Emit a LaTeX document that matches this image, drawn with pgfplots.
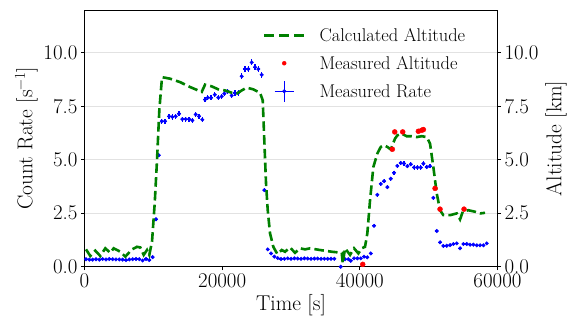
\documentclass[border=0pt]{standalone}
\usepackage{fontspec}
\usepackage{pgfplots}
\pgfplotsset{compat=1.18}
\usepackage{pgfplotstable}
\definecolor{mplgreen}{HTML}{008000}
\definecolor{gridgray}{HTML}{E2E2E2}
\definecolor{txt}{HTML}{000000}

\pgfplotstableread{
x y ex ey
218 0.35 242 0.027
702 0.33 242 0.026
1186 0.33 242 0.026
1670 0.35 242 0.027
2154 0.33 242 0.026
2638 0.36 242 0.027
3122 0.34 242 0.027
3606 0.36 242 0.027
4090 0.35 242 0.027
4574 0.34 242 0.027
5058 0.34 242 0.027
5542 0.33 242 0.026
6026 0.31 242 0.025
6510 0.34 242 0.027
6994 0.35 242 0.027
7478 0.36 242 0.027
7962 0.35 242 0.027
8446 0.29 242 0.025
8930 0.36 242 0.027
9414 0.31 242 0.025
9898 0.45 242 0.031
10390 2.22 242 0.068
10780 5.21 242 0.104
11217 6.80 242 0.119
11697 6.80 242 0.119
12278 7.03 242 0.121
12758 7.00 242 0.121
13252 7.03 242 0.121
13731 7.15 242 0.122
14211 6.90 242 0.120
14705 6.90 242 0.120
15185 6.90 242 0.120
15664 6.84 242 0.119
16158 7.12 242 0.122
16638 7.03 242 0.121
17118 6.87 242 0.120
17509 7.81 242 0.128
17901 7.90 242 0.128
18380 7.90 242 0.128
18934 8.04 242 0.129
19441 7.90 242 0.128
19935 7.96 242 0.129
20313 8.09 242 0.130
20807 8.19 242 0.131
21388 8.00 242 0.129
21868 8.12 242 0.130
22347 8.13 242 0.130
22841 8.90 242 0.136
23321 9.24 242 0.139
23800 9.24 242 0.139
24294 9.55 242 0.141
24774 9.33 242 0.139
25253 9.24 242 0.139
25747 8.97 242 0.137
26125 3.58 242 0.086
26619 0.81 242 0.041
27099 0.62 242 0.036
27578 0.47 242 0.031
28072 0.40 242 0.029
28556 0.36 242 0.027
29040 0.37 242 0.028
29524 0.39 242 0.029
30008 0.37 242 0.028
30492 0.39 242 0.029
30976 0.38 242 0.028
31460 0.37 242 0.028
31944 0.39 242 0.029
32428 0.38 242 0.028
32912 0.37 242 0.028
33396 0.38 242 0.028
33880 0.38 242 0.028
34364 0.37 242 0.028
34848 0.37 242 0.028
35332 0.37 242 0.028
35816 0.37 242 0.028
36300 0.37 242 0.028
37225 0.00 242 0.000
37850 0.35 242 0.027
38330 0.35 242 0.027
38680 0.28 242 0.024
39160 0.39 242 0.029
39640 0.39 242 0.029
40130 0.39 242 0.029
40610 0.47 242 0.031
41090 0.44 242 0.030
41590 0.62 242 0.036
42065 1.91 242 0.063
42540 3.36 242 0.084
43040 3.87 242 0.090
43520 4.00 242 0.091
44000 3.72 242 0.088
44490 4.11 242 0.093
44970 4.39 242 0.096
45450 4.71 242 0.099
45940 4.85 242 0.101
46420 4.82 242 0.100
46900 4.70 242 0.099
47400 4.79 242 0.100
47880 4.64 242 0.098
48360 4.64 242 0.098
48850 4.64 242 0.098
49230 4.82 242 0.100
49720 4.66 242 0.099
50200 4.70 242 0.099
50680 3.22 242 0.082
51180 1.67 242 0.059
51660 1.14 242 0.049
52130 0.97 242 0.045
52630 0.98 242 0.045
53110 1.01 242 0.046
53590 1.06 242 0.047
54080 1.09 242 0.048
54560 0.86 242 0.042
55040 1.06 242 0.047
55530 1.06 242 0.047
56010 1.03 242 0.046
56490 1.03 242 0.046
56990 1.00 242 0.046
57470 1.00 242 0.046
57950 1.00 242 0.046
58440 1.09 242 0.048
}\ratetable

\pgfplotstableread{
x y
218 0.81
843 0.50
1570 0.75
2296 0.50
3022 0.86
3749 0.65
4243 0.86
5202 0.70
5928 0.47
6902 0.81
7628 0.93
8108 0.90
8602 0.55
9081 0.78
9415 0.55
9808 1.17
10200 2.96
10534 4.98
10868 7.31
11261 8.86
12423 8.79
13876 8.63
15329 8.40
17029 8.17
17509 8.51
18482 8.43
19441 8.29
20415 8.24
21388 8.13
22115 8.09
22841 8.24
23568 8.37
24526 8.29
25500 8.13
25892 7.78
26082 6.22
26372 3.89
26619 2.64
26953 1.56
27432 0.93
28014 0.59
28653 0.78
29133 0.70
29859 0.90
30586 0.65
31312 0.86
32039 0.81
32765 0.86
34218 0.78
35918 0.70
37371 0.65
37516 0.16
37851 0.86
38577 0.55
39160 0.86
39785 0.62
40275 0.86
40755 0.93
41090 1.56
41483 3.11
41963 4.66
42544 5.29
43040 5.60
43520 5.68
44000 5.60
44490 5.48
45115 5.99
45450 6.14
46070 6.22
46790 6.10
47520 6.10
48268 6.06
48990 6.10
49721 6.06
50200 5.75
50680 4.66
51174 3.42
51654 2.64
52133 2.41
53110 2.41
54080 2.49
54560 2.21
54950 2.57
55770 2.64
56740 2.57
57470 2.49
58190 2.52
}\calctable

\pgfplotstableread{
x y
40420 0.11
44720 5.49
45070 6.30
46230 6.30
48500 6.33
48990 6.38
49230 6.41
50930 3.66
51650 2.69
55140 2.69
}\meastable

\begin{document}
\begin{tikzpicture}
\pgfplotsset{
  myaxis/.style={
    scale only axis, width=413bp, height=256.7bp,
    xmin=0, xmax=60000, ymin=0, ymax=12,
    ytick={0,2.5,5,7.5,10},
    scaled x ticks=false, scaled y ticks=false,
    tick align=outside,
    major tick length=3.5bp,
    tick style={black, line width=0.8bp},
    axis line style={black, line width=0.8bp},
    /pgf/number format/assume math mode=true,
    tick label style={font=\fontsize{21}{24}\selectfont, text=txt},
    label style={font=\fontsize{21.5}{25}\selectfont, text=txt},
    yticklabel style={/pgf/number format/fixed, /pgf/number format/fixed zerofill, /pgf/number format/precision=1},
    xticklabel style={/pgf/number format/1000 sep={}},
  }
}
\begin{axis}[myaxis, name=ax,
  xtick={0,20000,40000,60000}, xtick pos=bottom, ytick pos=left,
  ymajorgrids, grid style={gridgray, line width=0.8bp},
  xlabel={Time [s]}, ylabel={Count Rate [s\textsuperscript{\char"2212 1}]},
  ylabel shift=-1bp,
]
\addplot[only marks, mark=*, mark size=1.8bp, blue, mark options={draw=none, fill=blue},
  error bars/.cd, x dir=both, x explicit, y dir=both, y explicit, error mark=none,
  error bar style={line width=1.1bp, blue}]
  table[x=x, y=y, x error=ex, y error=ey]{\ratetable};
\end{axis}
\begin{axis}[myaxis, axis x line=none, axis y line*=right, ytick pos=right,
  ylabel={Altitude [km]},
  legend cell align=left,
  legend style={at={(rel axis cs:0.4315,0.957)}, anchor=north west, draw=none, fill=none,
    inner sep=0pt, column sep=14bp, row sep=0pt,
    font=\fontsize{18.5}{22}\selectfont, text=txt,
    nodes={inner sep=0pt, text height=20bp, text depth=8bp}},
]
\addplot[mplgreen, line width=2.6bp, dash pattern=on 9.6bp off 4.2bp,
  legend image code/.code={\draw[mplgreen, line width=2.6bp, dash pattern=on 10bp off 5bp] (0bp,0bp) -- (40bp,0bp);}]
  table[x=x, y=y]{\calctable};
\addlegendentry{Calculated Altitude}
\addplot[only marks, mark=*, mark size=2.5bp, red, mark options={draw=none, fill=red},
  legend image code/.code={\fill[red] (20bp,0bp) circle (2bp);}]
  table[x=x, y=y]{\meastable};
\addlegendentry{Measured Altitude}
\addlegendimage{legend image code/.code={
  \draw[blue, line width=1.1bp] (10.5bp,0bp) -- (29.5bp,0bp) (20bp,-10.5bp) -- (20bp,10.5bp);
  \fill[blue] (20bp,0bp) circle (1.8bp);}}
\addlegendentry{Measured Rate}
\end{axis}
\pgfresetboundingbox
\path[use as bounding box] ([shift={(-84.5bp,-53.3bp)}]ax.south west) rectangle ([shift={(72.5bp,10bp)}]ax.north east);
\end{tikzpicture}
\end{document}
